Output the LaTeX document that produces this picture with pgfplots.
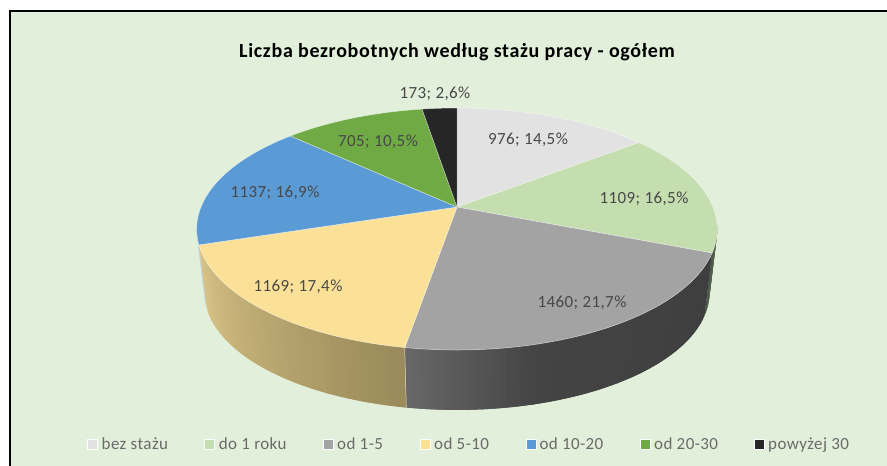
\documentclass[border=0pt]{standalone}
\usepackage{pgfplots}
\pgfplotsset{compat=1.18}
\usepackage{fontspec}
\setmainfont{Carlito}
\newfontfamily\titlefont[LetterSpace=3.4]{Carlito}
\newfontfamily\labfont[LetterSpace=2.4]{Carlito}
\definecolor{bg}{HTML}{E2EFDA}
\definecolor{c1}{HTML}{E2E2E2}
\definecolor{c2}{HTML}{C5DEB0}
\definecolor{c3}{HTML}{A3A3A3}
\definecolor{c4}{HTML}{FBE197}
\definecolor{c5}{HTML}{5B9BD5}
\definecolor{c6}{HTML}{6FAA45}
\definecolor{c7}{HTML}{262626}
\definecolor{lab}{HTML}{484848}
\definecolor{leg}{HTML}{6A6A6A}
\definecolor{sBlue}{HTML}{C5D3DF}
\definecolor{sGrnA}{HTML}{5F7058}
\definecolor{sGrnB}{HTML}{4A5A48}
\definecolor{sGryA}{HTML}{3E3E3E}
\definecolor{sGryB}{HTML}{444444}
\definecolor{sGryC}{HTML}{686868}
\definecolor{sYelA}{HTML}{DAC688}
\definecolor{sYelB}{HTML}{9A895A}
% values of the seven categories
\def\vA{976}\def\vB{1109}\def\vC{1460}\def\vD{1169}\def\vE{1137}\def\vF{705}\def\vG{173}
\pgfmathsetmacro\tot{\vA+\vB+\vC+\vD+\vE+\vF+\vG}
\pgfmathsetmacro\aA{360*(\vA/\tot)}
\pgfmathsetmacro\aB{\aA+360*(\vB/\tot)}
\pgfmathsetmacro\aC{\aB+360*(\vC/\tot)}
\pgfmathsetmacro\aD{\aC+360*(\vD/\tot)}
\pgfmathsetmacro\aE{\aD+360*(\vE/\tot)}
\pgfmathsetmacro\aF{\aE+360*(\vF/\tot)}
\newcommand\calcpt[1]{%
  \pgfmathsetmacro\myX{sin(#1)}%
  \pgfmathsetmacro\myY{cos(#1)}%
  \pgfmathsetmacro\myD{1+0.182*\myY}%
  \pgfmathsetmacro\px{457+256*\myX/\myD}%
  \pgfmathsetmacro\py{207-117*\myY/\myD}%
  \pgfmathsetmacro\qx{457+0.97*(\px-457)}%
  \pgfmathsetmacro\qy{2347+0.97*(\py-2347)}%
}
\newcommand\topslice[3]{%
  \pgfmathtruncatemacro\myN{max(2,ceil(abs(#2-#1)/2))}%
  \xdef\coords{(457,207)}%
  \foreach \i in {0,...,\myN}{%
    \pgfmathsetmacro\th{#1+(#2-#1)*\i/\myN}%
    \calcpt{\th}%
    \xdef\coords{\coords (\px,\py)}%
  }%
  \edef\temp{\noexpand\addplot[fill=#3,draw=white,draw opacity=0.55,line width=0.5pt] coordinates {\coords (457,207)};}\temp
}
\newcommand\sidestrip[4]{%
  \pgfmathtruncatemacro\myN{max(1,ceil(abs(#2-#1)/1.5))}%
  \pgfmathtruncatemacro\myM{\myN-1}%
  \foreach \i in {0,...,\myM}{%
    \pgfmathsetmacro\tha{#1+(#2-#1)*\i/\myN}%
    \pgfmathsetmacro\thb{#1+(#2-#1)*min(\i+2,\myN)/\myN}%
    \pgfmathsetmacro\pc{100*(\i+0.5)/\myN}%
    \calcpt{\tha}%
    \edef\ca{(\px,\py) (\qx,\qy)}%
    \calcpt{\thb}%
    \edef\temp{\noexpand\addplot[fill=#4!\pc!#3,draw=none] coordinates {\ca (\qx,\qy) (\px,\py)};}\temp
  }%
}
\begin{document}
\begin{tikzpicture}
\useasboundingbox (0pt,0pt) rectangle (887pt,466pt);
\begin{axis}[hide axis,scale only axis,width=887pt,height=466pt,
  xmin=0,xmax=887,ymin=0,ymax=466,y dir=reverse,clip=false,
  anchor=south west,at={(0pt,0pt)}]
\addplot[fill=white,draw=none] coordinates {(-5,-5)(895,-5)(895,475)(-5,475)};
\addplot[fill=bg,draw=none] coordinates {(9.7,11)(895,11)(895,475)(9.7,475)};
\addplot[black,line width=2pt] coordinates {(9.7,475)(9.7,11)(895,11)};
% sides
\sidestrip{262}{\aD}{sBlue}{sBlue}
\sidestrip{98}{\aB}{sGrnA}{sGrnB}
\sidestrip{\aB}{166}{sGryA}{sGryB}
\sidestrip{165}{\aC}{sGryB}{sGryC}
\sidestrip{\aD}{\aC}{sYelA}{sYelB}
\calcpt{\aC}
\edef\temp{\noexpand\addplot[white,opacity=0.7,line width=0.5pt] coordinates {(\px,\py)(\qx,\qy)};}\temp
% top
\topslice{0}{\aA}{c1}
\topslice{\aA}{\aB}{c2}
\topslice{\aB}{\aC}{c3}
\topslice{\aC}{\aD}{c4}
\topslice{\aD}{\aE}{c5}
\topslice{\aE}{\aF}{c6}
\topslice{\aF}{360}{c7}
% labels
\node[font=\titlefont\fontsize{20}{20}\selectfont\bfseries,text=black] at (axis cs:457,52) {Liczba bezrobotnych według stażu pracy - ogółem};
\begin{scope}[every node/.style={font=\labfont\fontsize{17}{17}\selectfont,text=lab}]
\node at (axis cs:528,140) {976; 14,5\%};
\node at (axis cs:644,199) {1109; 16,5\%};
\node at (axis cs:582,303) {1460; 21,7\%};
\node at (axis cs:298,287) {1169; 17,4\%};
\node at (axis cs:275,193) {1137; 16,9\%};
\node at (axis cs:378,142) {705; 10,5\%};
\node at (axis cs:435,94) {173; 2,6\%};
\end{scope}
% legend
\pgfplotsset{legm/.style={only marks,mark=square*,mark size=5pt,mark options={draw=white,line width=1pt,fill=#1}}}
\addplot[legm=c1] coordinates {(92,444)};
\addplot[legm=c2] coordinates {(209,444)};
\addplot[legm=c3] coordinates {(328,444)};
\addplot[legm=c4] coordinates {(425,444)};
\addplot[legm=c5] coordinates {(531,444)};
\addplot[legm=c6] coordinates {(645.5,444)};
\addplot[legm=c7] coordinates {(759.5,444)};
\begin{scope}[every node/.style={font=\labfont\fontsize{17}{17}\selectfont,text=leg,anchor=base west,inner sep=0pt}]
\node at (axis cs:101.5,449) {bez stażu};
\node at (axis cs:218.7,449) {do 1 roku};
\node at (axis cs:337,449) {od 1-5};
\node at (axis cs:434,449) {od 5-10};
\node at (axis cs:539.3,449) {od 10-20};
\node at (axis cs:654,449) {od 20-30};
\node at (axis cs:768,449) {powyżej 30};
\end{scope}
\end{axis}
\end{tikzpicture}
\end{document}
